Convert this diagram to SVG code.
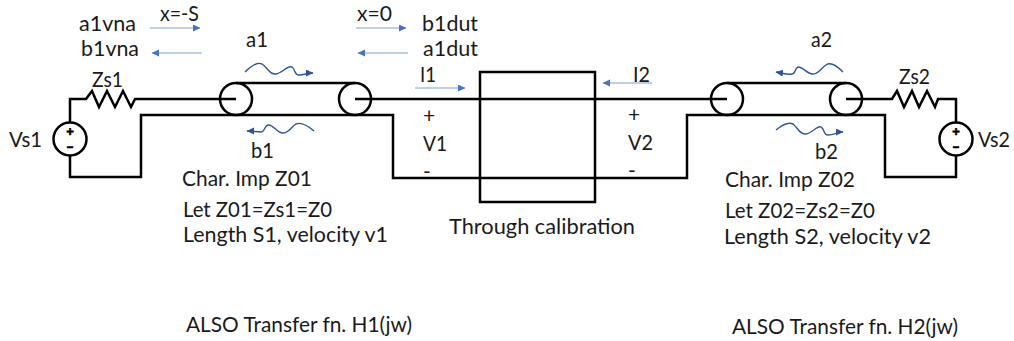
<svg xmlns="http://www.w3.org/2000/svg" width="1014" height="341" viewBox="0 0 1014 341">
<defs>
<marker id="ah" markerUnits="userSpaceOnUse" markerWidth="8" markerHeight="8" refX="7" refY="3.5" orient="auto"><path d="M0 0L7.500 3.500L0 7Z" fill="#4472c4"/></marker>
<marker id="wh" markerUnits="userSpaceOnUse" markerWidth="8" markerHeight="8" refX="7" refY="3.500" orient="auto"><path d="M0 0L7.500 3.500L0 7Z" fill="#2f5597"/></marker>
</defs>
<style>
text{font-family:"Lato","Carlito","Liberation Sans",sans-serif;font-size:21px;fill:#1a1a1a}
.w{fill:none;stroke:#000;stroke-width:2.500}
.a{fill:none;stroke:#7f9fd8;stroke-width:1.200;marker-end:url(#ah)}
.v{fill:none;stroke:#2f5597;stroke-width:1.400;marker-end:url(#wh)}
.s{font-family:"Liberation Sans",sans-serif;font-size:13px;font-weight:700;fill:#000;stroke:#000;stroke-width:.6}
</style>
<rect width="1014" height="341" fill="#fff"/>
<g id="connectors">
<path class="w" d="M70 122V99H86L92 91L99 107L107 91L115 107L123 91L131 107L135 99H236"/>
<path class="w" d="M70 155V177H141V115H393V178H687V115H885V177H956V155"/>
<path class="w" d="M355 99H727"/>
<path class="w" d="M236 83H355M727 83H846"/>
<path class="w" d="M956 122V99H938L935 107L927 91L919 107L912 91L904 107L897 91L892 99H846"/>
<path class="a" d="M150 28H200"/>
<path class="a" d="M202 53H152"/>
<path class="a" d="M356 28H406"/>
<path class="a" d="M408 53H358"/>
<path class="a" d="M415 88H465"/>
<path class="a" d="M652 83H603"/>
<path class="v" d="M245 72C252 65 258 62 262 64C268 68 270 75 276 74C282 73 288 65 292 67C296 70 294 75 299 75C304 75 308 73 313 73"/>
<path class="v" d="M314 131C307 125 301 122 296 124C291 127 288 134 282 133C276 132 273 124 268 125C264 126 265 132 261 132C257 132 252 131 247 131"/>
<path class="v" d="M843 72C835 64 830 62 826 65C821 68 818 75 812 74C806 73 802 66 798 67C794 69 796 74 792 74C788 75 782 73 776 72"/>
<path class="v" d="M776 130C783 124 789 122 793 124C798 128 800 135 806 134C812 133 818 125 821 127C825 129 823 135 828 135C833 135 839 132 843 132"/>
</g>
<g id="source1"><circle class="w" cx="70" cy="139" r="16.500"/><text class="s" x="66.200" y="135.500">+</text><text class="s" x="66.500" y="150.500" textLength="7" lengthAdjust="spacingAndGlyphs">-</text></g>
<g id="source2"><circle class="w" cx="956" cy="139" r="16.500"/><text class="s" x="952.200" y="135.500">+</text><text class="s" x="952.500" y="150.500" textLength="7" lengthAdjust="spacingAndGlyphs">-</text></g>
<g id="line1-left"><circle class="w" cx="236" cy="99" r="16"/></g>
<g id="line1-right"><circle class="w" cx="355" cy="99" r="16"/></g>
<g id="line2-left"><circle class="w" cx="727" cy="99" r="16"/></g>
<g id="line2-right"><circle class="w" cx="846" cy="99" r="16"/></g>
<g id="dut"><rect class="w" x="480" y="72" width="115" height="130"/></g>
<g id="labels">
<text x="79" y="31" textLength="57" lengthAdjust="spacingAndGlyphs">a1vna</text>
<text x="81" y="56" textLength="58" lengthAdjust="spacingAndGlyphs">b1vna</text>
<text x="160" y="21" textLength="39" lengthAdjust="spacingAndGlyphs">x=-S</text>
<text x="357" y="21" textLength="35" lengthAdjust="spacingAndGlyphs">x=0</text>
<text x="422" y="31" textLength="56" lengthAdjust="spacingAndGlyphs">b1dut</text>
<text x="423" y="56" textLength="55" lengthAdjust="spacingAndGlyphs">a1dut</text>
<text x="246" y="47" textLength="22" lengthAdjust="spacingAndGlyphs">a1</text>
<text x="251" y="158" textLength="23" lengthAdjust="spacingAndGlyphs">b1</text>
<text x="92" y="87" textLength="31" lengthAdjust="spacingAndGlyphs">Zs1</text>
<text x="9" y="147" textLength="33" lengthAdjust="spacingAndGlyphs">Vs1</text>
<text x="182" y="186" textLength="130" lengthAdjust="spacingAndGlyphs">Char. Imp Z01</text>
<text x="183" y="217" textLength="149" lengthAdjust="spacingAndGlyphs">Let Z01=Zs1=Z0</text>
<text x="183" y="242" textLength="205" lengthAdjust="spacingAndGlyphs">Length S1, velocity v1</text>
<text x="420" y="82" textLength="16" lengthAdjust="spacingAndGlyphs">I1</text>
<text x="633" y="82" textLength="17" lengthAdjust="spacingAndGlyphs">I2</text>
<text x="423" y="123">+</text>
<text x="423" y="151" textLength="24" lengthAdjust="spacingAndGlyphs">V1</text>
<text x="423" y="179">-</text>
<text x="628" y="122">+</text>
<text x="628" y="150" textLength="25" lengthAdjust="spacingAndGlyphs">V2</text>
<text x="628" y="178">-</text>
<text x="449" y="234" textLength="186" lengthAdjust="spacingAndGlyphs">Through calibration</text>
<text x="811" y="47" textLength="21" lengthAdjust="spacingAndGlyphs">a2</text>
<text x="815" y="159" textLength="23" lengthAdjust="spacingAndGlyphs">b2</text>
<text x="899" y="84" textLength="31" lengthAdjust="spacingAndGlyphs">Zs2</text>
<text x="978" y="147" textLength="32" lengthAdjust="spacingAndGlyphs">Vs2</text>
<text x="725" y="187" textLength="130" lengthAdjust="spacingAndGlyphs">Char. Imp Z02</text>
<text x="725" y="218" textLength="150" lengthAdjust="spacingAndGlyphs">Let Z02=Zs2=Z0</text>
<text x="724" y="244" textLength="207" lengthAdjust="spacingAndGlyphs">Length S2, velocity v2</text>
<text x="186" y="332" textLength="226" lengthAdjust="spacingAndGlyphs">ALSO Transfer fn. H1(jw)</text>
<text x="732" y="334" textLength="226" lengthAdjust="spacingAndGlyphs">ALSO Transfer fn. H2(jw)</text>
</g>
</svg>
